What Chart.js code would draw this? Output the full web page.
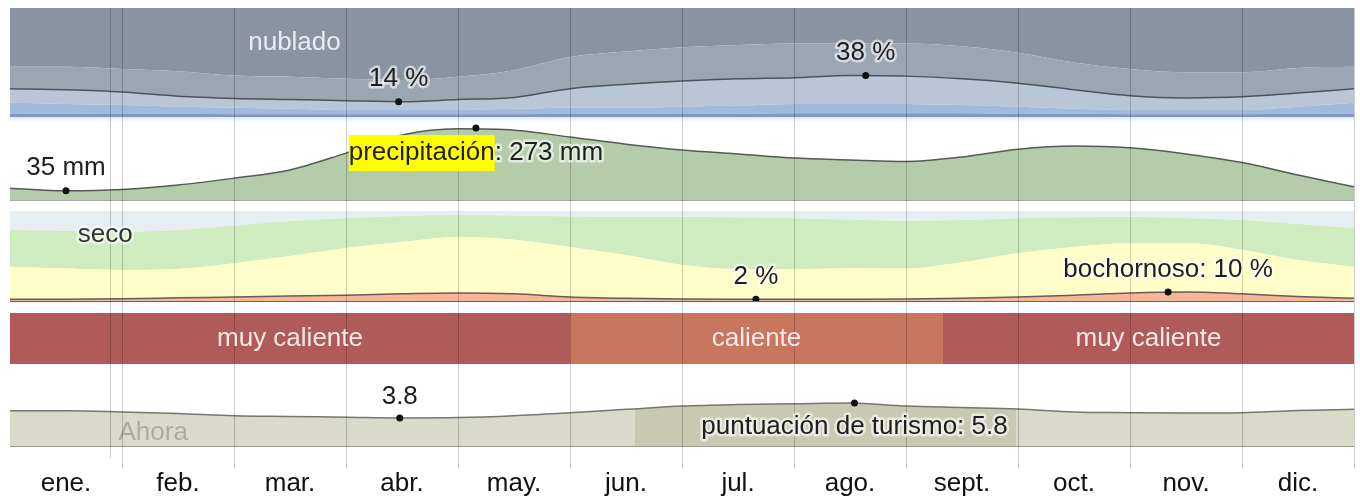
<!DOCTYPE html>
<html><head><meta charset="utf-8">
<script src="https://cdn.jsdelivr.net/npm/chart.js@4.4.1/dist/chart.umd.min.js"></script>
<style>html,body{margin:0;padding:0;background:#fff;}canvas{display:block;}</style>
</head><body>
<canvas id="c" width="1360" height="499"></canvas>
<script>
// ---------- data ----------
const monthLabels = ['ene.','feb.','mar.','abr.','may.','jun.','jul.','ago.','sept.','oct.','nov.','dic.'];
const samplePos = [0,0.5,1,1.5,2,2.5,3,3.5,4,4.5,5,5.5,6,6.5,7,7.5,8,8.5,9,9.5,10,10.5,11,11.5,12];

// cloud cover, cumulative % of time (bottom -> top)
const cloudClear       = [3,3,3,3,2.5,2.5,2.5,2.5,2.5,2.5,3,3,3,3,3.5,3.5,3.5,3.5,3,3,2.5,2.5,2.5,3,3];
const cloudMostlyClear = [13,12,11,9.5,8.5,7.5,6.5,6.5,6.5,7.5,8.5,8.5,9.5,10.5,12,12,12,11,9.5,7.5,6.5,6.5,6.5,9.5,13];
const cloudPartly      = [26,25,23,19,17,16,15,14,16,18,26,30,33,35,36,38,37.5,35,31,25,19.5,17.5,18.5,22,26];
const cloudMostlyCloudy= [46,46,44,42,38,37,35,34,37,43,55,60,64,66,67.5,67.5,67.5,65,59,50,44,41,41,45,46];
const cloudMarkMonths = [3.47, 7.64];
const cloudMarkValues = [14, 38];

// precipitation (mm)
const precipMm = [45,35,40,57,83,114,178,247,270,265,239,212,190,175,159,152,146,163,193,205,198,175,142,95,50];
const precipMarkMonths = [0.5, 4.16];
const precipMarkValues = [35, 273];

// humidity comfort, cumulative % of time (bottom -> top)
const humMuggy = [2,2,2.5,3.5,4.5,5.5,6.5,8,9,8,4.5,3,2.2,2,2,2,2.2,3,4.5,6.5,9,10,8,5,3];
const humHumid = [38,36,34.5,35.5,42,50,59,65.5,71,68,60,51,40,35.5,35.5,36.5,36,43,53,60,64.5,64.5,57,45.5,38];
const humComfortable = [79,78,77,79,84,89,92,94.5,95.5,95,94,93.5,93.5,93,92,90.5,89,90,92,93,93.5,92,90,85.5,81];
const humMarkMonths = [6.66, 10.34];
const humMarkValues = [2, 10];

// temperature bands
const tempBandStart = [0, 5, 8.33];
const tempBandEnd   = [5, 8.33, 12];
const tempBandNames = ['muy caliente', 'caliente', 'muy caliente'];

// tourism score
const tourScore = [4.75,4.75,4.6,4.4,4.1,4.0,3.9,3.8,3.85,4.1,4.5,4.95,5.4,5.6,5.7,5.8,5.4,5.2,5.0,4.6,4.5,4.45,4.5,4.8,4.95];
const tourMarkMonths = [3.48, 7.54];
const tourMarkValues = [3.8, 5.8];
const tourBestStart = 5.58, tourBestEnd = 8.98;
const nowMonth = 0.893;

// ---------- styling ----------
const FONT = '"Liberation Sans", Arial, sans-serif';
const C = {
  overcast:'#8a939f', mostlyCloudy:'#9ca6b3', partly:'#b8c6d7', mostlyClear:'#a1b9da', clear:'#7f98c0',
  precip:'#b4cca9', dry:'#e7eef2', comfortable:'#ceecbf', humid:'#fffec8', muggy:'#f4b797',
  vhot:'#b05b59', hot:'#c9765f', tourLight:'#dadacb', tourDark:'#c9c9b2'
};
const pts = arr => arr.map((v,i)=>({x:samplePos[i], y:v}));
const marks = (ms, vs) => ms.map((m,i)=>({x:m, y:vs[i]}));

function area(data, yAxisID, fill, color, line){
  return {type:'line', data, xAxisID:'x', yAxisID, fill, backgroundColor:color,
    borderColor: line ? line.color : 'rgba(0,0,0,0)', borderWidth: line ? line.width : 0,
    pointRadius:0, cubicInterpolationMode:'monotone'};
}
function dots(data, yAxisID){
  return {type:'line', data, xAxisID:'x', yAxisID, showLine:false, order:-1,
    pointRadius:3.5, pointBackgroundColor:'#111', pointBorderWidth:0, fill:false};
}

const datasets = [
  // cloud (indices 0..4)
  area(pts(cloudClear), 'yCloud', 'origin', C.clear),
  area(pts(cloudMostlyClear), 'yCloud', '-1', C.mostlyClear),
  area(pts(cloudPartly), 'yCloud', '-1', C.partly, {color:'#4d535c', width:1.5}),
  area(pts(cloudMostlyCloudy), 'yCloud', '-1', C.mostlyCloudy),
  area(pts(cloudMostlyCloudy), 'yCloud', 'end', C.overcast),
  // precipitation (5)
  area(pts(precipMm), 'yPrecip', 'origin', C.precip, {color:'#555b52', width:1.5}),
  // humidity (6..9)
  area(pts(humMuggy), 'yHum', 'origin', C.muggy, {color:'#6a5a55', width:1.5}),
  area(pts(humHumid), 'yHum', '-1', C.humid),
  area(pts(humComfortable), 'yHum', '-1', C.comfortable),
  area(pts(humComfortable), 'yHum', 'end', C.dry),
];
// temperature bands
tempBandStart.forEach((s,i)=>{
  datasets.push(area([{x:s,y:1},{x:tempBandEnd[i],y:1}], 'yTemp', 'origin',
    tempBandNames[i]==='caliente' ? C.hot : C.vhot));
});
// tourism
const tourDs = area(pts(tourScore), 'yTour', 'origin', C.tourLight, {color:'#76766c', width:1.5});
tourDs.backgroundColor = (c) => {
  const ch = c.chart, a = ch.chartArea;
  if (!a || !ch.scales.x) return C.tourLight;
  const xs = ch.scales.x;
  const w = a.right - a.left;
  const f0 = (xs.getPixelForValue(tourBestStart) - a.left)/w;
  const f1 = (xs.getPixelForValue(tourBestEnd) - a.left)/w;
  const g = ch.ctx.createLinearGradient(a.left, 0, a.right, 0);
  g.addColorStop(0, C.tourLight); g.addColorStop(f0, C.tourLight);
  g.addColorStop(f0, C.tourDark); g.addColorStop(f1, C.tourDark);
  g.addColorStop(f1, C.tourLight); g.addColorStop(1, C.tourLight);
  return g;
};
datasets.push(tourDs);
// marker dots
datasets.push(dots(marks(cloudMarkMonths, cloudMarkValues), 'yCloud'));
datasets.push(dots(marks(precipMarkMonths, precipMarkValues), 'yPrecip'));
datasets.push(dots(marks(humMarkMonths, humMarkValues), 'yHum'));
datasets.push(dots(marks(tourMarkMonths, tourMarkValues), 'yTour'));

// ---------- label plugin ----------
function txt(ctx, text, x, y, color, halo, align){
  ctx.font = '26px ' + FONT;
  ctx.textAlign = align || 'center';
  ctx.textBaseline = 'middle';
  if (halo){
    ctx.lineJoin = 'round';
    ctx.lineWidth = 5;
    ctx.strokeStyle = halo;
    ctx.strokeText(text, x, y);
  }
  ctx.fillStyle = color;
  ctx.fillText(text, x, y);
}
const HALO = 'rgba(255,255,255,0.6)';
const DARK = '#1e1e1e';

const decor = {
  id:'decor',
  afterDatasetsDraw(chart){
    const ctx = chart.ctx, a = chart.chartArea, s = chart.scales;
    ctx.save();
    // faint shade under the cloud panel
    const cb = s.yCloud.getPixelForValue(0);
    const g = ctx.createLinearGradient(0, cb, 0, cb + 5);
    g.addColorStop(0, 'rgba(160,185,220,0.35)'); g.addColorStop(1, 'rgba(160,185,220,0)');
    ctx.fillStyle = g; ctx.fillRect(a.left, cb, a.right - a.left, 5);
    ctx.lineWidth = 1;
    [['yPrecip','#a9a9a9'],['yHum','#6f5f58'],['yTour','#9a9a90']].forEach(([id,col])=>{
      const y = Math.round(s[id].getPixelForValue(0)) + 0.5;
      ctx.strokeStyle = col;
      ctx.beginPath(); ctx.moveTo(a.left, y); ctx.lineTo(a.right, y); ctx.stroke();
    });
    ctx.restore();
  },
  afterDraw(chart){
    const ctx = chart.ctx, a = chart.chartArea, s = chart.scales, xs = s.x;
    ctx.save();
    // "Ahora" line
    const nx = Math.round(xs.getPixelForValue(nowMonth)) + 0.5;
    const tourBottom = s.yTour.getPixelForValue(0);
    ctx.strokeStyle = 'rgba(0,0,0,0.2)'; ctx.lineWidth = 1;
    ctx.beginPath(); ctx.moveTo(nx, a.top); ctx.lineTo(nx, tourBottom + 12); ctx.stroke();
    txt(ctx, 'Ahora', nx + 8, tourBottom - 13, 'rgba(0,0,0,0.22)', null, 'left');

    // panel names
    txt(ctx, 'nublado', xs.getPixelForValue(2.54), s.yCloud.getPixelForValue(68), '#e9ecf0');
    txt(ctx, 'seco', xs.getPixelForValue(0.85), s.yHum.getPixelForValue(73), '#333', HALO);

    // cloud marks
    cloudMarkMonths.forEach((m,i)=>{
      txt(ctx, cloudMarkValues[i] + ' %', xs.getPixelForValue(m), s.yCloud.getPixelForValue(cloudMarkValues[i]) - 23, DARK, HALO);
    });
    // precipitation marks
    txt(ctx, precipMarkValues[0] + ' mm', xs.getPixelForValue(precipMarkMonths[0]), s.yPrecip.getPixelForValue(precipMarkValues[0]) - 23, DARK, HALO);
    {
      const word = 'precipitación', rest = ': ' + precipMarkValues[1] + ' mm';
      ctx.font = '26px ' + FONT;
      const ww = ctx.measureText(word).width, tw = ctx.measureText(word + rest).width;
      const cx = xs.getPixelForValue(precipMarkMonths[1]);
      const cy = s.yPrecip.getPixelForValue(precipMarkValues[1]) + 25;
      const left = cx - tw/2;
      ctx.fillStyle = '#ffff00';
      ctx.fillRect(left, cy - 18, ww, 36);
      txt(ctx, word, left, cy, DARK, null, 'left');
      txt(ctx, rest, left + ww, cy, DARK, HALO, 'left');
    }
    // humidity marks
    txt(ctx, humMarkValues[0] + ' %', xs.getPixelForValue(humMarkMonths[0]), s.yHum.getPixelForValue(humMarkValues[0]) - 22, DARK, HALO);
    txt(ctx, 'bochornoso: ' + humMarkValues[1] + ' %', xs.getPixelForValue(humMarkMonths[1]), s.yHum.getPixelForValue(humMarkValues[1]) - 22, DARK, HALO);
    // temperature band names
    tempBandNames.forEach((n,i)=>{
      const cx = (xs.getPixelForValue(tempBandStart[i]) + xs.getPixelForValue(tempBandEnd[i]))/2;
      txt(ctx, n, cx, s.yTemp.getPixelForValue(0.5), '#f6e8e6');
    });
    // tourism marks
    txt(ctx, String(tourMarkValues[0]), xs.getPixelForValue(tourMarkMonths[0]), s.yTour.getPixelForValue(tourMarkValues[0]) - 21, DARK, HALO);
    txt(ctx, 'puntuación de turismo: ' + tourMarkValues[1], xs.getPixelForValue(tourMarkMonths[1]), s.yTour.getPixelForValue(tourMarkValues[1]) + 24, DARK, HALO);
    ctx.restore();
  }
};

const panel = (w, extra) => Object.assign({type:'linear', position:'right', stack:'panels', stackWeight:w, display:false}, extra||{});

new Chart(document.getElementById('c'), {
  data: {datasets},
  options: {
    responsive:false, animation:false, events:[],
    layout:{padding:{top:8, left:10, right:6, bottom:0}},
    plugins:{legend:{display:false}, tooltip:{enabled:false}},
    scales:{
      x:{type:'linear', min:0, max:12, display:false},
      xm:{type:'category', labels:monthLabels, offset:true, position:'bottom',
        grid:{offset:true, z:1, drawTicks:false, lineWidth:1,
          color:(c)=> (c.index === 0 || c.index === 12) ? 'rgba(0,0,0,0)' : 'rgba(0,0,0,0.2)'},
        border:{display:false},
        ticks:{padding:0, maxRotation:0, autoSkip:false, color:'#111', font:{size:26, family:FONT}},
        afterFit:(sc)=>{ sc.height = 31; }},
      yCloud: panel(109, {min:0, max:100}),
      yGap1: panel(5, {min:0, max:1}),
      yPrecip: panel(78, {min:0, max:296}),
      yGap2: panel(11, {min:0, max:1}),
      yHum: panel(90, {min:0, max:100}),
      yGap3: panel(12, {min:0, max:1}),
      yTemp: panel(51, {min:0, max:1}),
      yGap4: panel(8, {min:0, max:1}),
      yTour: panel(74, {min:0, max:10}),
      yGap5: panel(22, {min:0, max:1})
    }
  },
  plugins:[decor]
});
</script>
</body></html>
